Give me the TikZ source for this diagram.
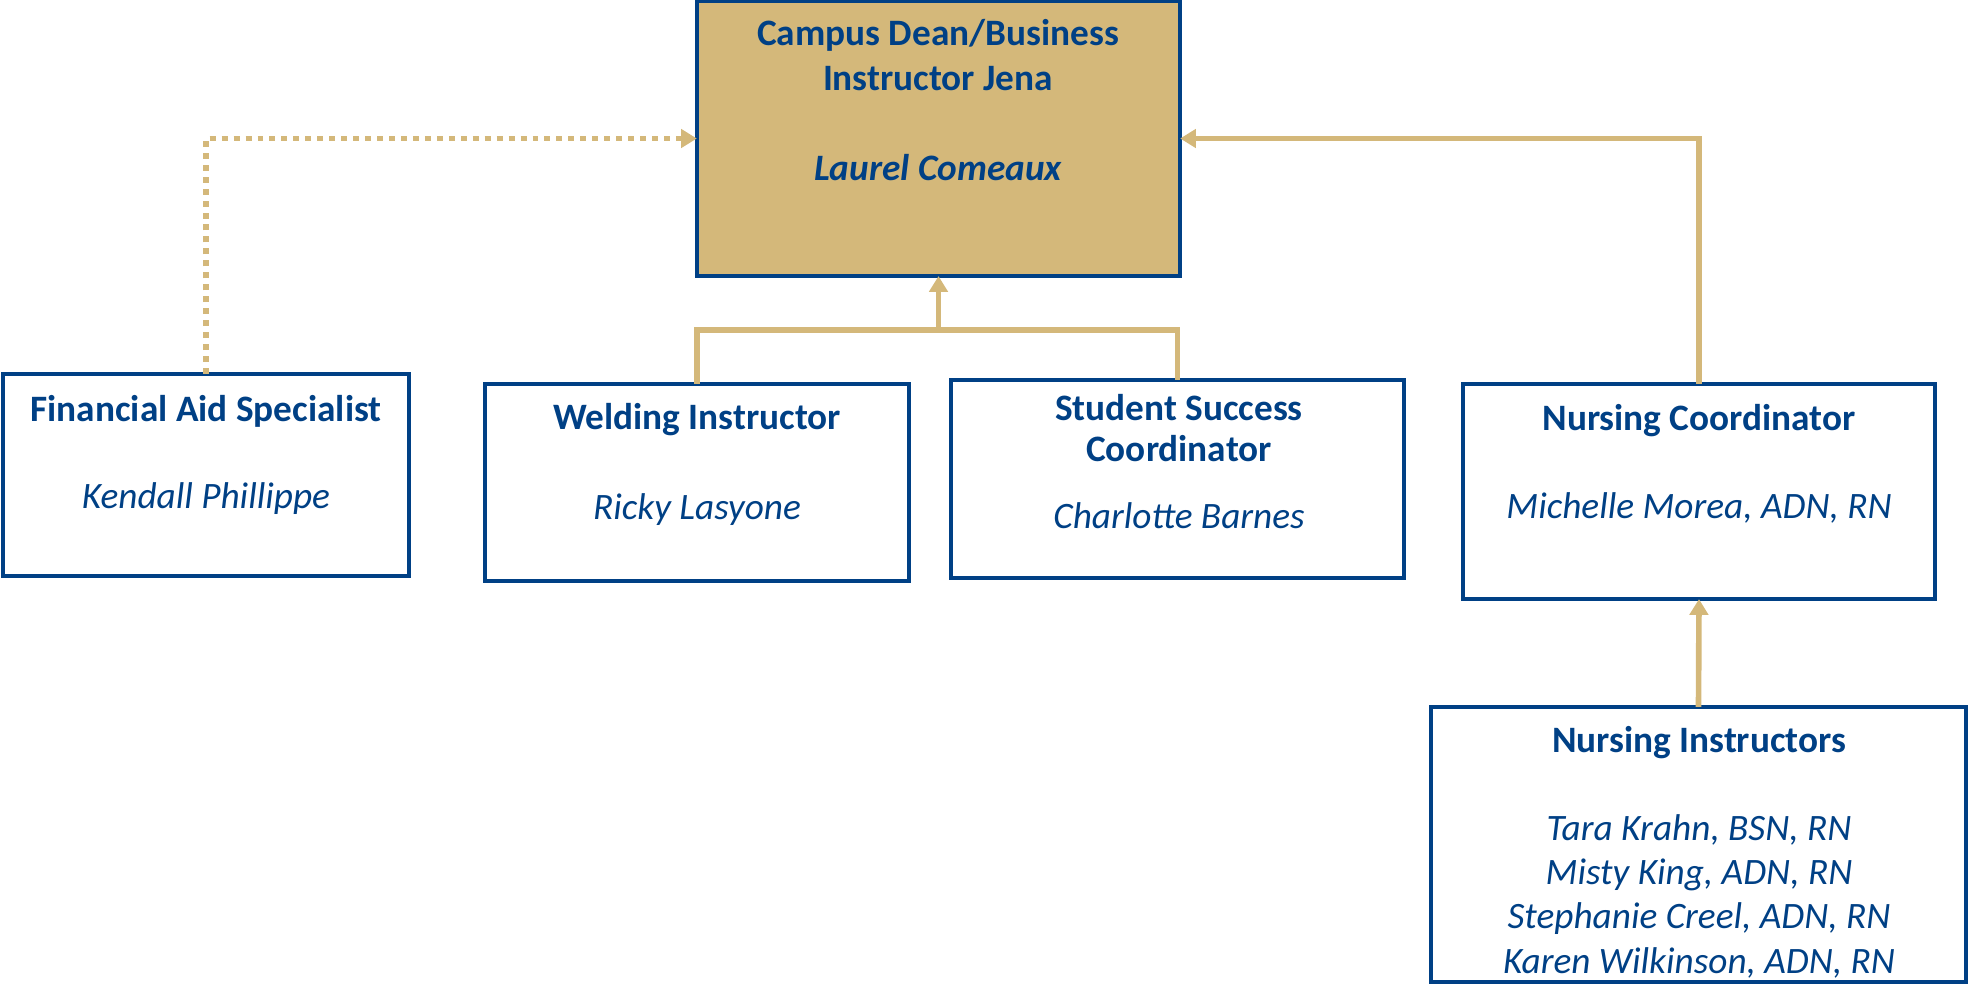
\documentclass[tikz,border=0pt]{standalone}
\usepackage{fontspec}
\setmainfont{Carlito}
\usetikzlibrary{arrows.meta}
\definecolor{navy}{RGB}{0,64,133}
\definecolor{gold}{RGB}{212,184,122}
\begin{document}
\begin{tikzpicture}[x=0.01cm,y=-0.01cm,
        unit/.style={draw=navy,line width=1.2pt,inner sep=0pt,outer sep=0pt},
        role/.style={text=navy,font=\fontsize{10.6}{12.6}\selectfont\bfseries,align=center,anchor=base,inner sep=0pt},
        who/.style={text=navy,font=\fontsize{10.6}{12.6}\selectfont\itshape,align=center,anchor=base,inner sep=0pt},
        link/.style={draw=gold,line width=1.6pt},
        tip/.style={-{Triangle[length=4.5pt,width=5.2pt]}}]
    \useasboundingbox (0,0) rectangle (1969,984);
    % boxes
    \node[unit,fill=gold,minimum width=4.83cm,minimum height=2.75cm] (dean) at (938.5,138.5) {};
    \node[unit,minimum width=4.06cm,minimum height=2.02cm] (aid) at (206,475) {};
    \node[unit,minimum width=4.24cm,minimum height=1.97cm] (weld) at (697,482.5) {};
    \node[unit,minimum width=4.53cm,minimum height=1.98cm] (succ) at (1177.5,479) {};
    \node[unit,minimum width=4.72cm,minimum height=2.15cm] (nurse) at (1699,491.5) {};
    \node[unit,minimum width=5.35cm,minimum height=2.75cm] (staff) at (1698.5,844.5) {};
    % texts (base = last line)
    \node[role] (dean-r) at (938,90) {Campus Dean/Business\\Instructor Jena};
    \node[who] (dean-w) at (938,180) {\bfseries Laurel Comeaux};
    \node[role] (aid-r) at (206,421) {Financial Aid Specialist};
    \node[who] (aid-w) at (206,508) {Kendall Phillippe};
    \node[role] (weld-r) at (697,429) {Welding Instructor};
    \node[who] (weld-w) at (697,519) {Ricky Lasyone};
    \node[role,font=\fontsize{10.6}{11.4}\selectfont\bfseries] (succ-r) at (1179,461) {Student Success\\Coordinator};
    \node[who] (succ-w) at (1179,528) {Charlotte Barnes};
    \node[role] (nurse-r) at (1699,430) {Nursing Coordinator};
    \node[who] (nurse-w) at (1699,518) {Michelle Morea, ADN, RN};
    \node[role] (staff-r) at (1699,752) {Nursing Instructors};
    \node[who] (staff-w) at (1699,973) {Tara Krahn, BSN, RN\\Misty King, ADN, RN\\Stephanie Creel, ADN, RN\\Karen Wilkinson, ADN, RN};
    % connectors
    \coordinate (joint) at (938.5,330);
    \draw[link,line width=1.7pt,dash pattern=on 1.7pt off 1.7pt,tip] (aid.north) |- (dean.west);
    \draw[link] (weld.north) |- (joint) -| (succ.north);
    \draw[link,tip] (joint) -- (dean.south);
    \draw[link,tip] (nurse.north) |- (dean.east);
    \draw[link,tip] (staff.north) -- (nurse.south);
\end{tikzpicture}
\end{document}
